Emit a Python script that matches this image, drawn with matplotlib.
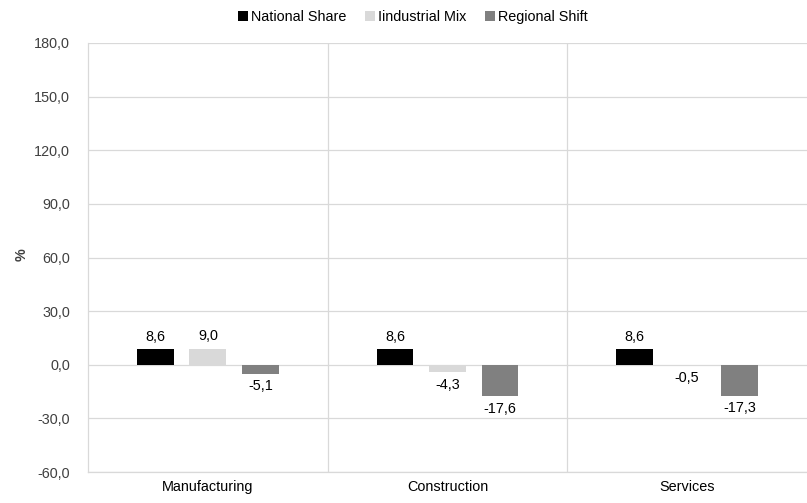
import matplotlib
matplotlib.use("Agg")
import matplotlib.pyplot as plt
import numpy as np

plt.rcParams['font.family'] = ['Liberation Sans', 'DejaVu Sans']

categories = ["Manufacturing", "Construction", "Services"]
series_names = ["National Share", "Iindustrial Mix", "Regional Shift"]
national_share = [8.6, 8.6, 8.6]
industrial_mix = [9.0, -4.3, -0.5]
regional_shift = [-5.1, -17.6, -17.3]
colors = ["#000000", "#d9d9d9", "#808080"]
yticks = [-60, -30, 0, 30, 60, 90, 120, 150, 180]

FS = 10.4
fig = plt.figure(figsize=(8.07, 5.03), dpi=100)
ax = fig.add_axes([88/807, 1 - 472/503, (807-88)/807, (472-43)/503])

x = np.arange(len(categories))
width = 0.154
step = 0.219
series = [national_share, industrial_mix, regional_shift]
for i, (vals, name, c) in enumerate(zip(series, series_names, colors)):
    pos = x + (i - 1) * step
    ax.bar(pos, vals, width, color=c, label=name, zorder=3)
    for p, v in zip(pos, vals):
        lbl = f"{v:.1f}".replace('.', ',')
        if v >= 0:
            ax.text(p, v + 3, lbl, ha='center', va='bottom', fontsize=FS, color='#000000')
        else:
            ax.text(p, v - 3, lbl, ha='center', va='top', fontsize=FS, color='#000000')

ax.set_xlim(-0.5, 2.5)
ax.set_ylim(-60, 180)
ax.set_yticks(yticks)
ax.set_yticklabels([f"{t:.1f}".replace('.', ',') for t in yticks], fontsize=FS, color='#404040')
ax.set_xticks(x)
ax.set_xticklabels(categories, fontsize=FS, color='#000000')
ax.tick_params(axis='x', length=0, pad=6)
ax.tick_params(axis='y', length=0, pad=13)

ax.grid(axis='y', color='#d9d9d9', linewidth=0.9, zorder=0)
for b in [0.5, 1.5]:
    ax.axvline(b, color='#d9d9d9', linewidth=0.9, zorder=0)
for s in ['top', 'right']:
    ax.spines[s].set_visible(False)
ax.spines['left'].set_color('#d9d9d9')
ax.spines['bottom'].set_color('#d9d9d9')
ax.spines['left'].set_linewidth(0.9)
ax.spines['bottom'].set_linewidth(0.9)

fig.text(22/807, 1 - 255/503, "%", rotation=90, ha='center', va='center',
         fontsize=FS, fontweight='bold', color='#404040')

fig.legend(loc='upper center', bbox_to_anchor=(413/807, 1.006), ncol=3, frameon=False,
           fontsize=FS, handlelength=0.7, handleheight=0.7, handletextpad=0.2, columnspacing=1.3)

fig.savefig("out.png", dpi=100)
